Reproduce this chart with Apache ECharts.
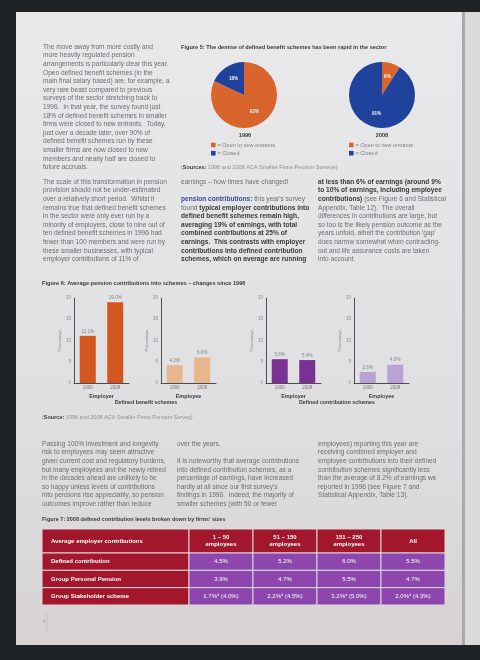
<!DOCTYPE html>
<html lang="en">
<head>
<meta charset="UTF-8">
<title>Smaller firms pension survey - figures 5 to 7</title>
<script src="https://cdn.jsdelivr.net/npm/echarts@6/dist/echarts.min.js"></script>
<style>
  body { margin: 0; padding: 0; background: #1f2227; }
  #main { width: 480px; height: 660px; }
</style>
</head>
<body>
<div id="main"></div>
<script>
// ---- data read from the page ----
var pieNames = ['Open to new entrants', 'Closed'];
var pie1996 = [82, 18];
var pie2008 = [9, 91];

var barYears = ['1996', '2008'];
var dbEmployer = [11.1, 19.0];
var dbEmployee = [4.2, 6.0];
var dcEmployer = [5.6, 5.4];
var dcEmployee = [2.6, 4.3];

var tableCorner = 'Average employer contributions';
var tableCols = ['1 – 50\nemployees', '51 – 150\nemployees', '151 – 250\nemployees', 'All'];
var tableRows = ['Defined contribution', 'Group Personal Pension', 'Group Stakeholder scheme'];
var tableDC = ['4.5%', '5.2%', '6.0%', '5.5%'];
var tableGPP = ['3.9%', '4.7%', '5.5%', '4.7%'];
var tableGSS = ['1.7%* (4.0%)', '2.2%* (4.5%)', '3.2%* (5.0%)', '2.0%* (4.3%)'];

// ---- styles ----
var FONT = '"Liberation Sans", Arial, sans-serif';
var BODY = '#6e6e72';
var DARK = '#3a3a3c';
var ORANGE = '#d8662c', BLUE = '#1f439d';
var barColors = ['#d3561f', '#e8b68c', '#7b3193', '#b9a3d4'];
var RED = '#a3172d', PURPLE = '#8c46ad';

var myChart = echarts.init(document.getElementById('main'));

// paragraph as one rich text block
function para(x, yFirst, lines, size) {
    var fs = size || 6.6, lh = 8.6;
    return {
        type: 'text', x: x, y: yFirst - lh / 2, z: 5,
        style: {
            text: lines.join('\n'), fontSize: fs, fontFamily: FONT, fill: BODY,
            lineHeight: lh, verticalAlign: 'top',
            rich: {
                b: { fontSize: fs, fontFamily: FONT, fontWeight: 'bold', fill: DARK, lineHeight: lh },
                c: { fontSize: fs, fontFamily: FONT, fontWeight: 'bold', fill: '#2e4f9c', lineHeight: lh },
                g: { fontSize: fs, fontFamily: FONT, fill: '#8d8d90', lineHeight: lh }
            }
        }
    };
}
function label(x, y, text, size, weight, color, align) {
    return {
        type: 'text', x: x, y: y, z: 5,
        style: {
            text: text, fontSize: size, fontFamily: FONT, fontWeight: weight || 'normal',
            fill: color || DARK, align: align || 'left', verticalAlign: 'middle'
        }
    };
}

var texts = [
    para(43, 47, [
        'The move away from more costly and',
        'more heavily regulated pension',
        'arrangements is particularly clear this year.',
        'Open defined benefit schemes (in the',
        'main final salary based) are, for example, a',
        'very rare beast compared to previous',
        'surveys of the sector stretching back to',
        '1996.  In that year, the survey found just',
        '18% of defined benefit schemes in smaller',
        'firms were closed to new entrants.  Today,',
        'just over a decade later, over 90% of',
        'defined benefit schemes run by these',
        'smaller firms are now closed to new',
        'members and nearly half are closed to',
        'future accruals.'
    ]),
    para(43, 182, [
        'The scale of this transformation in pension',
        'provision should not be under-estimated',
        'over a relatively short period.  Whilst it',
        'remains true that defined benefit schemes',
        'in the sector were only ever run by a',
        'minority of employers, close to nine out of',
        'ten defined benefit schemes in 1996 had',
        'fewer than 100 members and were run by',
        'these smaller businesses, with typical',
        'employer contributions of 11% of'
    ]),
    para(181, 182, [
        'earnings – how times have changed!',
        '',
        '{c|pension contributions:} this year\'s survey',
        'found {b|typical employer contributions into}',
        '{b|defined benefit schemes remain high,}',
        '{b|averaging 19% of earnings, with total}',
        '{b|combined contributions at 25% of}',
        '{b|earnings.  This contrasts with employer}',
        '{b|contributions into defined contribution}',
        '{b|schemes, which on average are running}'
    ]),
    para(318, 182, [
        '{b|at less than 6% of earnings (around 9%}',
        '{b|to 10% of earnings, including employee}',
        '{b|contributions)} (see Figure 6 and Statistical',
        'Appendix, Table 12).  The overall',
        'differences in contributions are large, but',
        'so too is the likely pension outcome as the',
        'years unfold, albeit the contribution \'gap\'',
        'does narrow somewhat when contracting-',
        'out and life assurance costs are taken',
        'into account.'
    ]),
    para(42, 444, [
        'Passing 100% investment and longevity',
        'risk to employees may seem attractive',
        'given current cost and regulatory burdens,',
        'but many employees and the newly retired',
        'in the decades ahead are unlikely to be',
        'so happy unless levels of contributions',
        'into pensions rise appreciably, so pension',
        'outcomes improve rather than reduce'
    ]),
    para(177, 444, [
        'over the years.',
        '',
        'It is noteworthy that average contributions',
        'into defined contribution schemes, as a',
        'percentage of earnings, have increased',
        'hardly at all since our first survey\'s',
        'findings in 1996.  Indeed, the majority of',
        'smaller schemes (with 50 or fewer'
    ]),
    para(318, 444, [
        'employees) reporting this year are',
        'receiving combined employer and',
        'employee contributions into their defined',
        'contribution schemes significantly less',
        'than the average of 8.2% of earnings we',
        'reported in 1996 (see Figure 7 and',
        'Statistical Appendix, Table 13).'
    ]),
    label(181, 47, 'Figure 5: The demise of defined benefit schemes has been rapid in the sector', 5.6, 'bold'),
    label(42, 283, 'Figure 6: Average pension contributions into schemes – changes since 1996', 5.6, 'bold'),
    label(42, 519, 'Figure 7: 2008 defined contribution levels broken down by firms\' sizes', 5.5, 'bold'),
    label(245, 135, '1996', 5.6, 'bold', DARK, 'center'),
    label(382, 135, '2008', 5.6, 'bold', DARK, 'center'),
    label(146, 403, 'Defined benefit schemes', 5.3, 'bold', DARK, 'center'),
    label(337, 403, 'Defined contribution schemes', 5.3, 'bold', DARK, 'center'),
    para(181, 167, ['({b|Sources:} 1996 and 2008 ACA Smaller Firms Pension Surveys)'], 5.5),
    para(42, 417, ['({b|Source:} 1996 and 2008 ACA Smaller Firms Pension Survey)'], 5.5),
    label(43, 622, '4', 4.5, 'normal', '#9a9a9c')
];
texts[14].style.fill = '#8d8d90';
texts[15].style.fill = '#8d8d90';

var pageBits = [
    { type: 'rect', z: 0, shape: { x: 16, y: 12, width: 446, height: 633 },
      style: { fill: new echarts.graphic.LinearGradient(0, 0, 0, 1, [
          { offset: 0, color: '#e9e9ec' }, { offset: 0.6, color: '#e0dfe2' }, { offset: 1, color: '#d7d3d3' }]) } },
    { type: 'rect', z: 0, shape: { x: 462, y: 12, width: 3, height: 633 }, style: { fill: '#a9a9ad' } },
    { type: 'rect', z: 0, shape: { x: 465, y: 12, width: 15, height: 633 }, style: { fill: '#dadadd' } },
    { type: 'line', z: 1, shape: { x1: 47, y1: 614, x2: 47, y2: 631 }, style: { stroke: '#b4b4b6', lineWidth: 0.6 } }
];

// ---- pies ----
function pieSeries(center, values) {
    return {
        type: 'pie', center: center, radius: 33, startAngle: 90, clockwise: true,
        silent: true,
        data: pieNames.map(function (n, i) {
            return { name: n, value: values[i], itemStyle: { color: i === 0 ? ORANGE : BLUE } };
        }),
        label: { show: true, position: 'inside', formatter: '{c}%', fontSize: 4.6,
                 fontFamily: FONT, fontWeight: 'bold', color: '#f4f0f0' },
        labelLine: { show: false }
    };
}
function pieLegend(left) {
    return {
        left: left, top: 142, orient: 'vertical', padding: 0, itemGap: 2.2,
        icon: 'rect', itemWidth: 4.6, itemHeight: 4.6, selectedMode: false,
        data: pieNames, formatter: '= {name}',
        textStyle: { fontSize: 5.5, fontFamily: FONT, color: '#808084', padding: [0, 0, 0, -3] }
    };
}

// ---- bars ----
var barLefts = [74, 161, 266, 354];
var barSets = [dbEmployer, dbEmployee, dcEmployer, dcEmployee];
var barNames = ['Employer', 'Employee', 'Employer', 'Employee'];

var grids = [], xAxes = [], yAxes = [], series = [];
barSets.forEach(function (vals, i) {
    grids.push({ left: barLefts[i], top: 298, width: 55, height: 85 });
    xAxes.push({
        gridIndex: i, type: 'category', data: barYears,
        axisLine: { lineStyle: { color: '#4e4e52', width: 1 } }, axisTick: { show: false },
        axisLabel: { fontSize: 4.5, fontFamily: FONT, color: '#7a7a7e', margin: 2.5 },
        name: barNames[i], nameLocation: 'middle', nameGap: 11,
        nameTextStyle: { fontSize: 5.4, fontFamily: FONT, fontWeight: 'bold', color: DARK }
    });
    yAxes.push({
        gridIndex: i, type: 'value', min: 0, max: 20, interval: 5,
        axisLine: { show: true, lineStyle: { color: '#4e4e52', width: 1 } },
        axisTick: { show: false }, splitLine: { show: false },
        axisLabel: { fontSize: 4.5, fontFamily: FONT, color: '#8a8a8e', margin: 3 },
        name: 'Percentage', nameLocation: 'middle', nameGap: 10, nameRotate: 90,
        nameTextStyle: { fontSize: 4.3, fontFamily: FONT, color: '#8a8a8e' }
    });
    series.push({
        type: 'bar', xAxisIndex: i, yAxisIndex: i, data: vals, barWidth: 16, silent: true,
        itemStyle: { color: barColors[i] },
        label: { show: true, position: 'top', distance: 2, fontSize: 4.5, fontFamily: FONT,
                 color: '#808084', formatter: function (p) { return p.value.toFixed(1) + '%'; } }
    });
});

// ---- table (custom series on hidden category grids) ----
var tableValues = [tableDC, tableGPP, tableGSS];
grids.push({ left: 42, top: 529, width: 147, height: 24 });   // 4 corner
grids.push({ left: 189, top: 529, width: 256, height: 24 });  // 5 column heads
grids.push({ left: 42, top: 553, width: 147, height: 52 });   // 6 row heads
grids.push({ left: 189, top: 553, width: 256, height: 52 });  // 7 values
function hiddenCat(idx, data, inverse) {
    return { gridIndex: idx, type: 'category', data: data, inverse: !!inverse, show: false };
}
xAxes.push(hiddenCat(4, ['c']), hiddenCat(5, tableCols), hiddenCat(6, ['c']), hiddenCat(7, tableCols));
yAxes.push(hiddenCat(4, ['h'], true), hiddenCat(5, ['h'], true), hiddenCat(6, tableRows, true), hiddenCat(7, tableRows, true));

function cellRender(fill, getText, align, bold) {
    return function (params, api) {
        var c = api.coord([api.value(0), api.value(1)]);
        var s = api.size([1, 1]);
        var x0 = c[0] - s[0] / 2, y0 = c[1] - s[1] / 2;
        return {
            type: 'group', children: [
                { type: 'rect', shape: { x: x0, y: y0, width: s[0], height: s[1] },
                  style: { fill: fill, stroke: '#dcd8da', lineWidth: 1 } },
                { type: 'text', x: align === 'left' ? x0 + 9 : c[0], y: c[1],
                  style: { text: getText(params.dataIndex), fill: '#ffffff', fontSize: 6,
                           fontFamily: FONT, fontWeight: bold ? 'bold' : 'normal',
                           align: align, verticalAlign: 'middle', lineHeight: 7.4 } }
            ]
        };
    };
}
function tableSeries(idx, data, render) {
    return { type: 'custom', xAxisIndex: idx, yAxisIndex: idx, data: data, renderItem: render, silent: true };
}
var valueCells = [];
tableRows.forEach(function (r, ri) {
    tableCols.forEach(function (c, ci) { valueCells.push([ci, ri]); });
});
series.push(tableSeries(4, [[0, 0]], cellRender(RED, function () { return tableCorner; }, 'left', true)));
series.push(tableSeries(5, tableCols.map(function (c, i) { return [i, 0]; }),
    cellRender(RED, function (i) { return tableCols[i]; }, 'center', true)));
series.push(tableSeries(6, tableRows.map(function (r, i) { return [0, i]; }),
    cellRender(RED, function (i) { return tableRows[i]; }, 'left', true)));
series.push(tableSeries(7, valueCells,
    cellRender(PURPLE, function (i) { return tableValues[Math.floor(i / 4)][i % 4]; }, 'center', false)));

series.push(pieSeries([244, 95], pie1996));
series.push(pieSeries([382, 95], pie2008));

var option = {
    backgroundColor: '#1f2227',
    animation: false,
    legend: [pieLegend(211), pieLegend(349)],
    grid: grids,
    xAxis: xAxes,
    yAxis: yAxes,
    graphic: { elements: pageBits.concat(texts) },
    series: series
};
myChart.setOption(option);
</script>
</body>
</html>
